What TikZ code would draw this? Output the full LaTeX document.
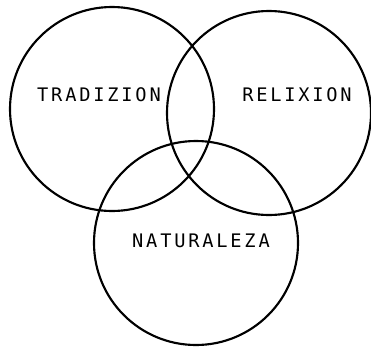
\documentclass[tikz,border=0pt]{standalone}
\usepackage{fontspec}
\usepackage{tikz}
\newfontfamily\tagfont[LetterSpace=15]{DejaVu Sans Mono}

\begin{document}
\begin{tikzpicture}[x=0.75pt,y=-0.75pt]
\tikzset{ring/.style={draw,circle,line width=1.6pt,minimum size=153pt,inner sep=0pt}}
\tikzset{tag/.style={font=\tagfont\fontsize{14}{16}\selectfont,inner sep=0pt}}
\useasboundingbox (0,0) rectangle (371,347);
% circles
\foreach \x/\y/\name in {112/109/trad, 269/113/relx, 196/243/natu} {
  \node[ring] (\name) at (\x,\y) {};
}
% labels
\node[tag] (tradtxt) at (99,95) {TRADIZION};
\node[tag] (relxtxt) at (297,95) {RELIXION};
\node[tag] (natutxt) at (201,241) {NATURALEZA};
\end{tikzpicture}
\end{document}
